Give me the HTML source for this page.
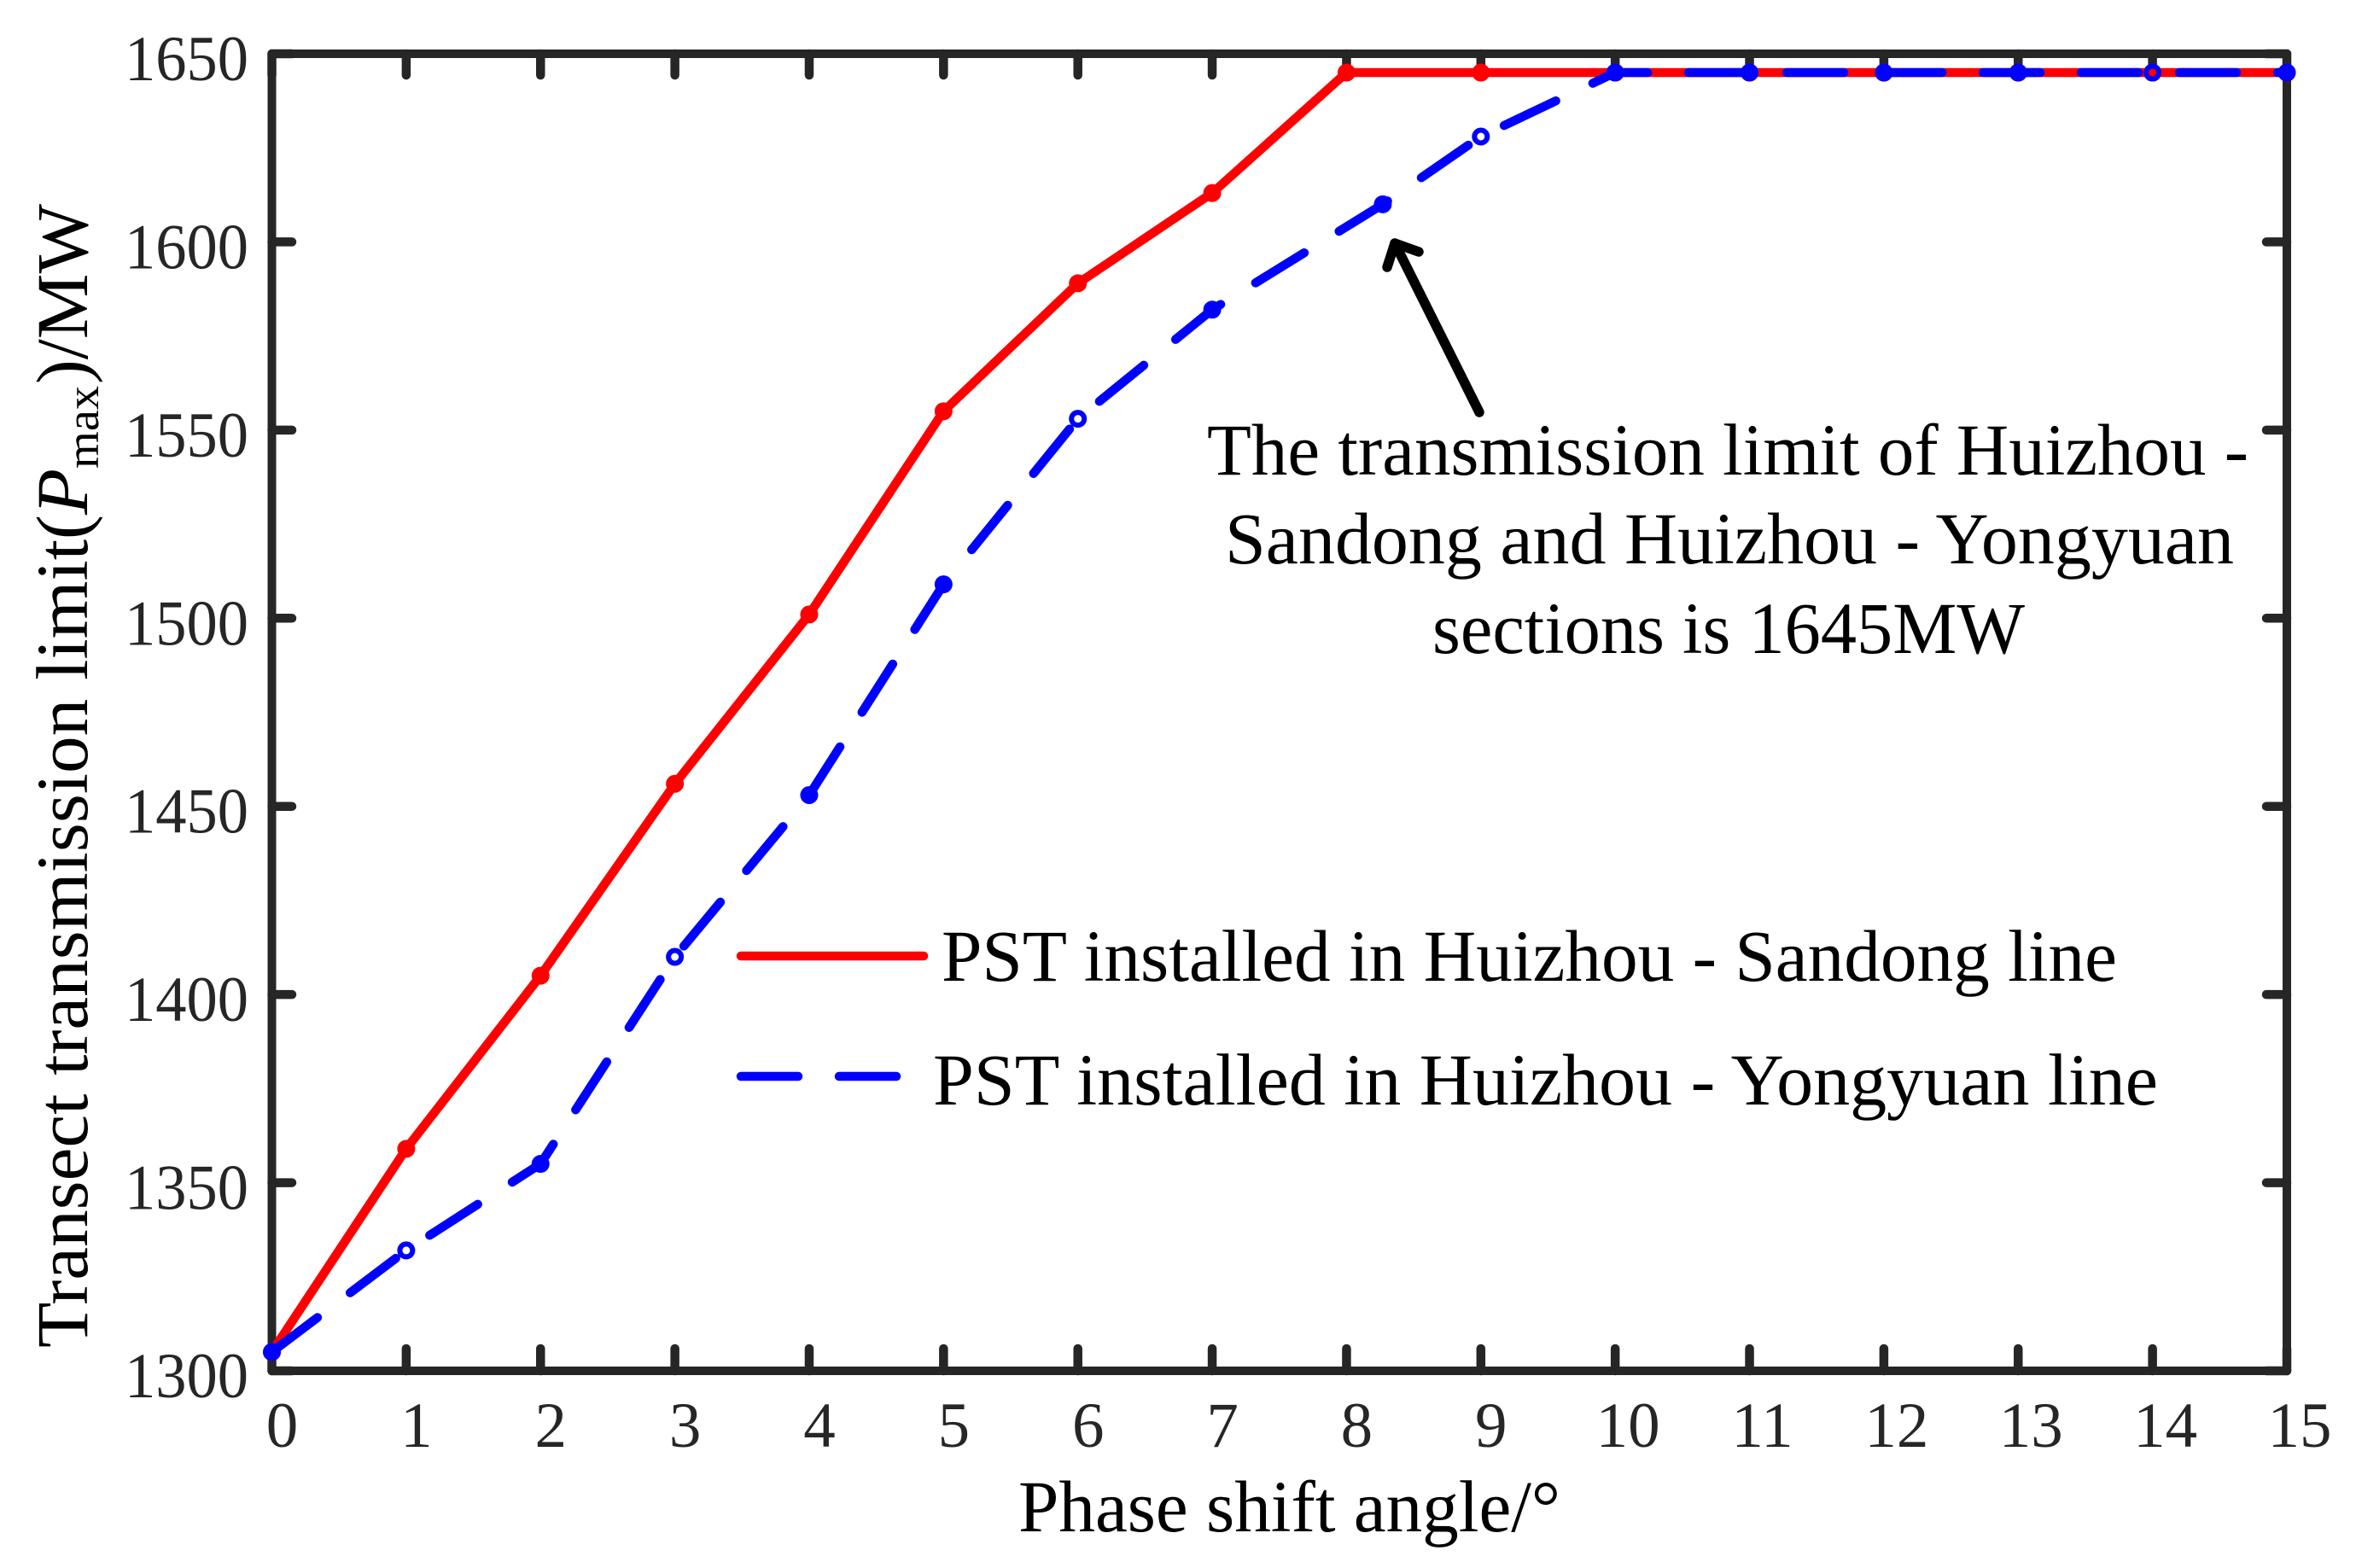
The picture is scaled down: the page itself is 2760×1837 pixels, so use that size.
<!DOCTYPE html>
<html lang="en">
<head>
<meta charset="utf-8">
<title>Transect transmission limit vs phase shift angle</title>
<style>
  html, body { margin: 0; padding: 0; background: #fff; }
  svg { display: block; }
  text { font-family: "Liberation Serif", "Times New Roman", serif; }
  .big { font-size: 86px; fill: #000; }
  .tick { font-size: 75px; fill: #262626; }
</style>
</head>
<body>
<svg id="chart" xmlns="http://www.w3.org/2000/svg" width="2760" height="1837" viewBox="0 0 2760 1837">
  <rect x="0" y="0" width="2760" height="1837" fill="#fff"/>
  <g id="ticks"></g>
  <g id="tick-labels"></g>
  <g id="series"></g>
  <rect x="318.5" y="63" width="2360.5" height="1543" fill="none" stroke="#262626" stroke-width="10" stroke-linejoin="round"/>
  <g id="series-top"></g>

  <g transform="rotate(-90)">
    <text class="big" x="-1579" y="102" textLength="976" lengthAdjust="spacingAndGlyphs">Transect transmission limit(</text>
    <text class="big" x="-603" y="102" font-style="italic" textLength="54" lengthAdjust="spacingAndGlyphs">P</text>
    <text x="-549" y="115" style="font-size:54px" fill="#000" textLength="97" lengthAdjust="spacingAndGlyphs">max</text>
    <text class="big" x="-450" y="102" textLength="211" lengthAdjust="spacingAndGlyphs">)/MW</text>
  </g>
  <text class="big" x="1193" y="1794" textLength="635" lengthAdjust="spacingAndGlyphs">Phase shift angle/°</text>

  <g>
    <text class="big" x="1414" y="556" textLength="1220" lengthAdjust="spacingAndGlyphs">The transmission limit of Huizhou -</text>
    <text class="big" x="1435" y="660" textLength="1182" lengthAdjust="spacingAndGlyphs">Sandong and Huizhou - Yongyuan</text>
    <text class="big" x="1678" y="765" textLength="694" lengthAdjust="spacingAndGlyphs">sections is 1645MW</text>
    <g fill="none" stroke="#000" stroke-width="11.5" stroke-linecap="round" stroke-linejoin="round">
      <line x1="1733" y1="483" x2="1634" y2="285"/>
      <polyline points="1625,313 1634,285 1662,295"/>
    </g>
  </g>

  <g>
    <line x1="868" y1="1120" x2="1082" y2="1120" stroke="#ff0000" stroke-width="10.5" stroke-linecap="round"/>
    <text class="big" x="1103" y="1149" textLength="1377" lengthAdjust="spacingAndGlyphs">PST installed in Huizhou - Sandong line</text>
    <line x1="868" y1="1261" x2="1051" y2="1261" stroke="#0000ff" stroke-width="10.5" stroke-linecap="round" stroke-dasharray="67 48"/>
    <text class="big" x="1093" y="1294" textLength="1435" lengthAdjust="spacingAndGlyphs">PST installed in Huizhou - Yongyuan line</text>
  </g>
</svg>
<script>
const xTickLabels = [0, 1, 2, 3, 4, 5, 6, 7, 8, 9, 10, 11, 12, 13, 14, 15];
const yTickLabels = [1300, 1350, 1400, 1450, 1500, 1550, 1600, 1650];
const sandongAngles = [0, 1, 2, 3, 4, 5, 6, 7, 8, 9, 10, 11, 12, 13, 14, 15];
const sandongLimits = [1305, 1359, 1405, 1456, 1501, 1555, 1589, 1613, 1645, 1645, 1645, 1645, 1645, 1645, 1645, 1645];
const yongyuanAngles = [0, 1, 2, 3, 4, 5, 6, 7, 8.27, 9, 10, 11, 12, 13, 14, 15];
const yongyuanLimits = [1305, 1332, 1355, 1410, 1453, 1509, 1553, 1582, 1610, 1628, 1645, 1645, 1645, 1645, 1645, 1645];
const yongyuanHollowAngles = [1, 3, 6, 9, 14];

const NS = 'http://www.w3.org/2000/svg';
const xScale = v => 318.5 + (v - 0) * (2679 - 318.5) / 15;
const yScale = v => 1606 - (v - 1300) * (1606 - 63) / 350;

function make(tag, attrs, parent) {
  const el = document.createElementNS(NS, tag);
  Object.keys(attrs).forEach(k => el.setAttribute(k, attrs[k]));
  parent.appendChild(el);
  return el;
}

const ticksG = document.getElementById('ticks');
const labelsG = document.getElementById('tick-labels');
const seriesG = document.getElementById('series');
const topG = document.getElementById('series-top');
const tickStyle = { stroke: '#262626', 'stroke-width': 10.5, 'stroke-linecap': 'round' };

xTickLabels.forEach(v => {
  const x = xScale(v);
  const bottom = make('line', Object.assign({ x1: x, y1: 1606, x2: x, y2: 1580 }, tickStyle), ticksG);
  
  
  const top = make('line', Object.assign({ x1: x, y1: 63, x2: x, y2: 88 }, tickStyle), ticksG);
  
  
  const offset = String(v).length > 1 ? 15 : 12;
  const label = make('text', { class: 'tick', x: x + offset, y: 1695, 'text-anchor': 'middle' }, labelsG);
  label.textContent = String(v);
  
  
});

yTickLabels.forEach(v => {
  const y = yScale(v);
  const left = make('line', Object.assign({ x1: 318.5, y1: y, x2: 342, y2: y }, tickStyle), ticksG);
  
  
  const right = make('line', Object.assign({ x1: 2679, y1: y, x2: 2655, y2: y }, tickStyle), ticksG);
  
  
  const label = make('text', { class: 'tick', x: 291, y: y + 31, 'text-anchor': 'end', textLength: 145, lengthAdjust: 'spacingAndGlyphs' }, labelsG);
  label.textContent = String(v);
  
  
});

const sandongPoints = sandongAngles.map((a, i) => xScale(a) + ',' + yScale(sandongLimits[i])).join(' ');
const yongyuanPoints = yongyuanAngles.map((a, i) => xScale(a) + ',' + yScale(yongyuanLimits[i])).join(' ');

const redLine = make('polyline', { points: sandongPoints, fill: 'none', stroke: '#ff0000', 'stroke-width': 10.5, 'stroke-linejoin': 'round', 'stroke-linecap': 'round' }, topG);



sandongAngles.forEach((a, i) => {
  const dot = make('circle', { cx: xScale(a), cy: yScale(sandongLimits[i]), r: 10.5, fill: '#ff0000' }, topG);
  
  
});

const blueLine = make('polyline', { points: yongyuanPoints, fill: 'none', stroke: '#0000ff', 'stroke-width': 10.5, 'stroke-linejoin': 'round', 'stroke-linecap': 'round', 'stroke-dasharray': '67 48' }, topG);



yongyuanAngles.forEach((a, i) => {
  const hollow = yongyuanHollowAngles.indexOf(a) >= 0;
  const attrs = hollow
    ? { cx: xScale(a), cy: yScale(yongyuanLimits[i]), r: 7.5, fill: 'none', stroke: '#0000ff', 'stroke-width': 6 }
    : { cx: xScale(a), cy: yScale(yongyuanLimits[i]), r: 10.5, fill: '#0000ff' };
  const dot = make('circle', attrs, topG);
  
  
});
</script>
</body>
</html>
